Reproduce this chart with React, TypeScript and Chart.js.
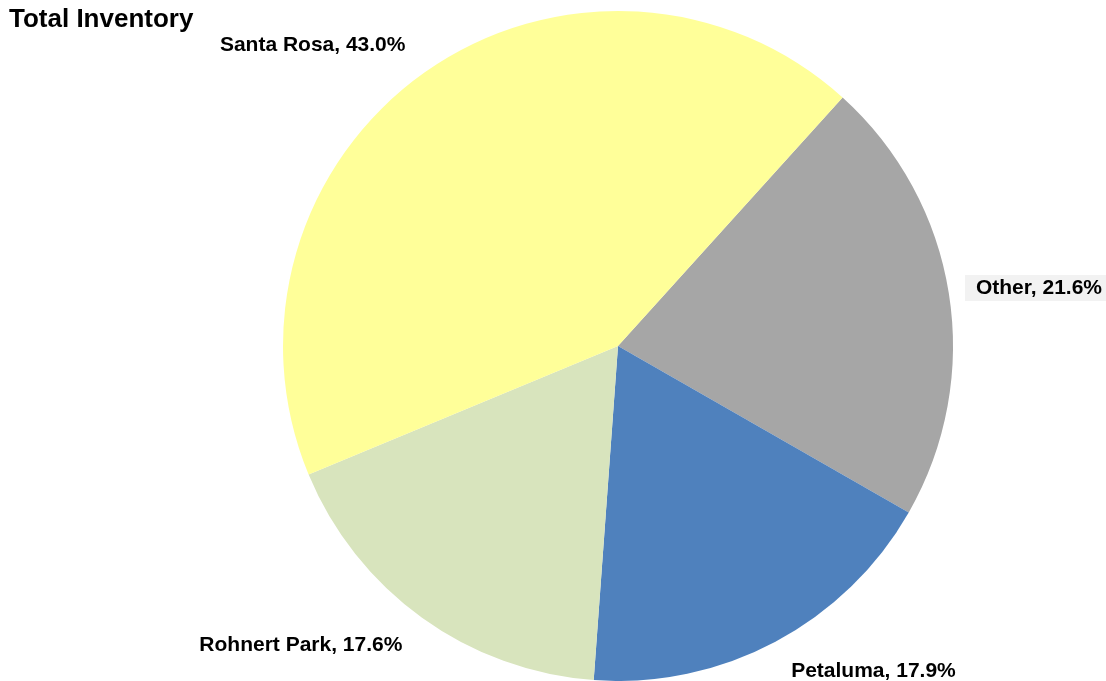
import React, { useEffect, useRef } from "react";
import { Chart, registerables } from "chart.js";

Chart.register(...registerables);

const categories = ["Other", "Petaluma", "Rohnert Park", "Santa Rosa"];
const values = [21.6, 17.9, 17.6, 43.0];
const colors = ["#a6a6a6", "#4f81bd", "#d8e4bd", "#ffff99"];
const title = "Total Inventory";

const labelPlugin = {
  id: "outLabels",
  afterDraw(chart: any) {
    const ctx = chart.ctx;
    ctx.save();
    ctx.fillStyle = "#000";
    ctx.font = "bold 26px 'Liberation Sans', Arial, sans-serif";
    ctx.textBaseline = "alphabetic";
    ctx.textAlign = "left";
    ctx.fillText(title, 9, 27);

    const meta = chart.getDatasetMeta(0);
    const total = values.reduce((a, b) => a + b, 0);
    ctx.font = "bold 21px 'Liberation Sans', Arial, sans-serif";
    ctx.textBaseline = "middle";
    ctx.textAlign = "left";
    meta.data.forEach((arc: any, i: number) => {
      const mid = (arc.startAngle + arc.endAngle) / 2;
      const d = arc.outerRadius * 1.1;
      const px = arc.x + Math.cos(mid) * d;
      const y = arc.y + Math.sin(mid) * d;
      const text = `${categories[i]}, ${((values[i] / total) * 100).toFixed(1)}%`;
      const right = Math.cos(mid) >= 0;
      const w = ctx.measureText(text).width;
      let x = right ? px : px - w;
      x = Math.min(x, chart.width - 4 - w);
      if (categories[i] === "Other") {
        ctx.fillStyle = "#f2f2f2";
        ctx.fillRect(x - 11, y - 13, w + 22, 26);
      }
      ctx.fillStyle = "#000";
      ctx.fillText(text, x, y);
    });
    ctx.restore();
  },
};

export default function App() {
  const ref = useRef<HTMLCanvasElement | null>(null);
  useEffect(() => {
    if (!ref.current) return;
    const chart = new Chart(ref.current, {
      type: "pie",
      data: {
        labels: categories,
        datasets: [
          {
            data: values,
            backgroundColor: colors,
            borderWidth: 0,
          },
        ],
      },
      options: {
        animation: false,
        responsive: true,
        maintainAspectRatio: false,
        rotation: 42.1,
        layout: { padding: { top: 11, bottom: 0, left: 130, right: 0 } },
        plugins: {
          legend: { display: false },
          tooltip: { enabled: false },
          title: { display: false },
        },
      },
      plugins: [labelPlugin],
    });
    return () => chart.destroy();
  }, []);
  return (
    <div style={{ position: "fixed", left: 0, top: 0, width: 1106, height: 681, background: "#fff" }}>
      <canvas ref={ref} />
    </div>
  );
}
